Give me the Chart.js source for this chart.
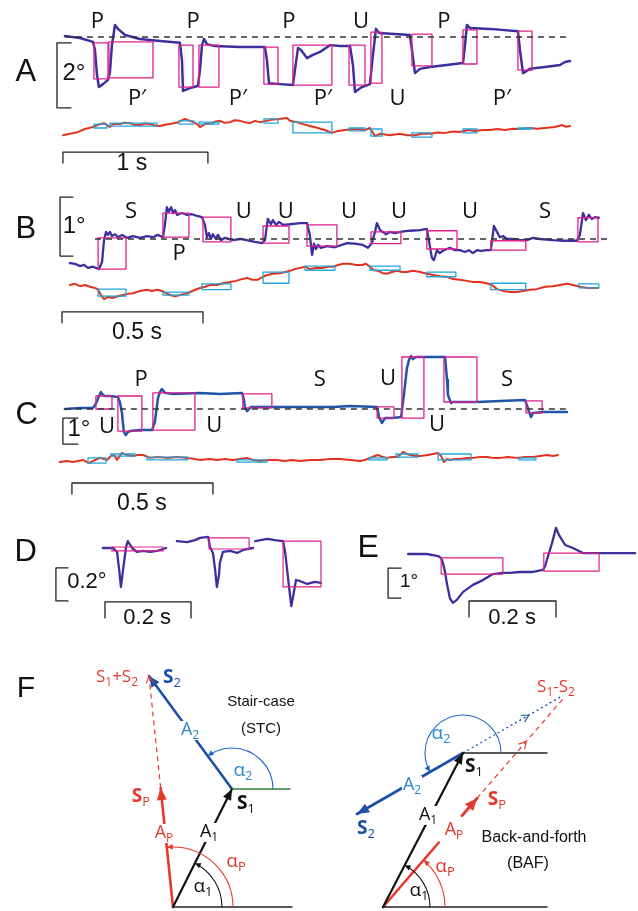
<!DOCTYPE html>
<html><head><meta charset="utf-8">
<script src="https://cdn.jsdelivr.net/npm/chart.js@4.4.0/dist/chart.umd.min.js"></script>
<style>
html,body{margin:0;padding:0;background:#fff;}
#fig{position:relative;width:638px;height:911px;overflow:hidden;background:#fff;}
canvas{position:absolute;}
</style></head>
<body>
<div id="fig">
<canvas id="cA" width="638" height="175" style="left:0;top:0"></canvas>
<canvas id="cB" width="638" height="165" style="left:0;top:180px"></canvas>
<canvas id="cC" width="638" height="170" style="left:0;top:345px"></canvas>
<canvas id="cD" width="330" height="125" style="left:0;top:515px"></canvas>
<canvas id="cE" width="308" height="125" style="left:330px;top:515px"></canvas>
<canvas id="cF" width="638" height="271" style="left:0;top:640px"></canvas>
</div>
<script>
// ================= DATA (time in s, eye position in deg) =================
// Panel A
const A_BLUE = [[0.000,0.03],[0.103,-0.03],[0.193,-0.15],[0.207,-0.40],[0.221,-1.17],[0.234,-1.54],[0.262,-1.45],[0.297,-1.32],[0.310,-1.08],[0.324,-0.25],[0.345,0.37],[0.366,0.25],[0.414,0.06],[0.517,-0.06],[0.655,-0.12],[0.793,-0.18],[0.807,-0.71],[0.814,-1.66],[0.862,-1.57],[0.917,-1.51],[0.931,-1.02],[0.945,-0.25],[0.959,-0.06],[0.979,-0.22],[1.034,-0.28],[1.207,-0.31],[1.379,-0.31],[1.393,-0.71],[1.407,-1.42],[1.483,-1.45],[1.572,-1.48],[1.586,-1.02],[1.607,-0.34],[1.628,-0.40],[1.669,-0.65],[1.710,-0.55],[1.759,-0.46],[1.828,-0.25],[1.897,-0.28],[1.966,-0.28],[1.986,-0.86],[2.000,-1.69],[2.048,-1.54],[2.103,-1.45],[2.124,-0.55],[2.145,0.25],[2.166,0.12],[2.276,0.09],[2.379,0.06],[2.393,-0.40],[2.414,-1.11],[2.448,-0.98],[2.517,-0.92],[2.745,-0.80],[2.759,-0.25],[2.772,0.37],[2.793,0.28],[2.931,0.25],[3.124,0.18],[3.138,-0.40],[3.159,-1.11],[3.207,-0.98],[3.310,-0.92],[3.414,-0.86],[3.448,-0.77],[3.483,-0.74]];
const A_RED = [[-0.014,-3.02],[0.034,-2.98],[0.090,-2.92],[0.138,-2.83],[0.193,-2.77],[0.241,-2.68],[0.269,-2.65],[0.290,-2.71],[0.310,-2.77],[0.331,-2.68],[0.379,-2.68],[0.410,-2.64],[0.448,-2.65],[0.480,-2.70],[0.517,-2.71],[0.550,-2.66],[0.586,-2.68],[0.620,-2.72],[0.655,-2.74],[0.690,-2.70],[0.724,-2.68],[0.779,-2.62],[0.828,-2.52],[0.862,-2.58],[0.903,-2.65],[0.931,-2.77],[0.966,-2.68],[1.014,-2.65],[1.040,-2.60],[1.069,-2.58],[1.100,-2.64],[1.138,-2.62],[1.170,-2.56],[1.207,-2.58],[1.240,-2.62],[1.276,-2.65],[1.310,-2.58],[1.345,-2.62],[1.421,-2.55],[1.476,-2.52],[1.531,-2.49],[1.552,-2.58],[1.600,-2.62],[1.641,-2.68],[1.690,-2.74],[1.745,-2.80],[1.793,-2.86],[1.841,-2.95],[1.883,-2.89],[1.931,-2.86],[2.000,-2.83],[2.069,-2.86],[2.103,-2.80],[2.138,-3.05],[2.172,-2.98],[2.241,-3.02],[2.310,-2.98],[2.360,-3.02],[2.414,-3.02],[2.470,-2.97],[2.517,-2.98],[2.570,-2.94],[2.621,-2.95],[2.680,-2.91],[2.724,-2.92],[2.779,-2.86],[2.828,-2.89],[2.880,-2.86],[2.931,-2.86],[2.980,-2.83],[3.034,-2.86],[3.090,-2.82],[3.138,-2.83],[3.207,-2.80],[3.260,-2.82],[3.310,-2.80],[3.379,-2.77],[3.428,-2.71],[3.455,-2.76],[3.483,-2.74]];
// boxes: [t start, t end, deg top, deg bottom]
const A_MAG = [[0.200,0.297,-0.18,-1.29],[0.303,0.607,-0.15,-1.26],[0.786,0.883,-0.25,-1.54],[0.924,1.062,-0.25,-1.54],[1.372,1.469,-0.31,-1.45],[1.572,1.841,-0.25,-1.48],[1.959,2.069,-0.25,-1.48],[2.110,2.186,0.15,-1.42],[2.393,2.531,0.09,-0.89],[2.745,2.841,0.22,-0.83],[3.124,3.221,0.18,-1.02]];
const A_CYAN = [[0.200,0.290,-2.68,-2.80],[0.310,0.634,-2.65,-2.74],[0.786,0.890,-2.58,-2.68],[0.924,1.062,-2.62,-2.68],[1.372,1.469,-2.52,-2.65],[1.572,1.841,-2.62,-2.95],[1.959,2.069,-2.80,-2.89],[2.110,2.186,-2.83,-3.05],[2.393,2.531,-2.95,-3.08],[2.745,2.841,-2.83,-2.95],[3.124,3.221,-2.80,-2.83]];
const A_TOP_LABELS = ['P','P','P','U','P'];
const A_TOP_T = [0.224,0.883,1.545,2.041,2.614];
const A_BOT_LABELS = ['P′','P′','P′','U','P′'];
const A_BOT_T = [0.497,1.193,1.779,2.293,3.014];

// Panel B
const B_BLUE = [[0.028,-0.41],[0.046,-0.42],[0.064,-0.46],[0.078,-0.44],[0.092,-0.49],[0.110,-0.47],[0.131,-0.51],[0.142,-0.39],[0.149,-0.02],[0.156,0.12],[0.163,0.07],[0.170,0.12],[0.177,0.05],[0.188,0.08],[0.199,0.03],[0.213,0.07],[0.230,0.02],[0.252,0.05],[0.277,0.02],[0.301,0.05],[0.323,0.03],[0.340,0.07],[0.358,0.03],[0.365,0.24],[0.372,0.54],[0.379,0.46],[0.387,0.54],[0.394,0.44],[0.401,0.49],[0.408,0.41],[0.426,0.44],[0.443,0.41],[0.461,0.42],[0.479,0.39],[0.496,0.37],[0.507,0.24],[0.514,0.03],[0.521,0.10],[0.528,0.00],[0.535,0.08],[0.546,0.00],[0.553,0.07],[0.564,-0.02],[0.578,0.02],[0.606,-0.02],[0.631,0.00],[0.655,-0.02],[0.684,-0.05],[0.709,-0.07],[0.720,-0.02],[0.727,0.24],[0.730,0.34],[0.741,0.25],[0.748,0.32],[0.759,0.24],[0.770,0.29],[0.784,0.24],[0.809,0.25],[0.844,0.27],[0.869,0.27],[0.879,0.07],[0.887,-0.27],[0.894,-0.08],[0.901,-0.17],[0.908,-0.10],[0.918,-0.15],[0.940,-0.12],[0.968,-0.14],[1.011,-0.07],[1.039,-0.08],[1.067,-0.10],[1.085,-0.15],[1.099,-0.07],[1.110,0.12],[1.117,0.27],[1.128,0.15],[1.138,0.12],[1.149,0.08],[1.163,0.12],[1.181,0.10],[1.199,0.12],[1.234,0.14],[1.270,0.15],[1.294,0.17],[1.301,-0.02],[1.312,-0.32],[1.319,-0.36],[1.330,-0.19],[1.340,-0.24],[1.351,-0.20],[1.365,-0.17],[1.376,-0.15],[1.394,-0.19],[1.411,-0.19],[1.429,-0.22],[1.443,-0.19],[1.457,-0.24],[1.472,-0.19],[1.486,-0.20],[1.507,-0.19],[1.521,-0.19],[1.528,0.07],[1.532,0.22],[1.543,0.12],[1.553,0.03],[1.564,0.05],[1.578,0.00],[1.599,0.00],[1.624,-0.02],[1.649,-0.02],[1.670,0.02],[1.695,0.00],[1.741,-0.02],[1.780,-0.03],[1.826,-0.03],[1.837,0.07],[1.848,0.44],[1.858,0.32],[1.869,0.41],[1.879,0.34],[1.890,0.37],[1.904,0.36]];
const B_RED = [[0.028,-0.78],[0.046,-0.76],[0.064,-0.80],[0.082,-0.78],[0.099,-0.81],[0.117,-0.83],[0.128,-0.86],[0.138,-0.95],[0.149,-1.02],[0.163,-0.98],[0.177,-1.00],[0.199,-0.97],[0.216,-0.95],[0.234,-0.93],[0.252,-0.92],[0.277,-0.88],[0.301,-0.86],[0.319,-0.88],[0.337,-0.86],[0.355,-0.88],[0.369,-0.92],[0.383,-0.95],[0.401,-0.97],[0.418,-0.95],[0.436,-0.93],[0.454,-0.90],[0.472,-0.86],[0.489,-0.83],[0.507,-0.81],[0.525,-0.78],[0.550,-0.78],[0.571,-0.75],[0.596,-0.73],[0.617,-0.71],[0.638,-0.68],[0.656,-0.66],[0.674,-0.69],[0.695,-0.69],[0.713,-0.64],[0.727,-0.61],[0.748,-0.59],[0.773,-0.58],[0.791,-0.56],[0.809,-0.54],[0.826,-0.51],[0.844,-0.49],[0.862,-0.47],[0.879,-0.51],[0.901,-0.49],[0.926,-0.49],[0.943,-0.47],[0.961,-0.47],[0.979,-0.44],[0.996,-0.42],[1.021,-0.42],[1.043,-0.44],[1.064,-0.44],[1.078,-0.42],[1.092,-0.47],[1.106,-0.53],[1.121,-0.54],[1.138,-0.58],[1.152,-0.59],[1.170,-0.56],[1.188,-0.54],[1.206,-0.56],[1.223,-0.56],[1.245,-0.54],[1.270,-0.56],[1.294,-0.59],[1.316,-0.61],[1.340,-0.63],[1.365,-0.64],[1.387,-0.68],[1.411,-0.69],[1.436,-0.71],[1.457,-0.73],[1.482,-0.73],[1.507,-0.75],[1.525,-0.78],[1.543,-0.85],[1.564,-0.88],[1.589,-0.90],[1.613,-0.90],[1.635,-0.88],[1.660,-0.86],[1.684,-0.85],[1.713,-0.81],[1.741,-0.80],[1.766,-0.78],[1.791,-0.76],[1.812,-0.78],[1.837,-0.81],[1.865,-0.83],[1.901,-0.83]];
const B_MAG = [[0.128,0.227,0.02,-0.51],[0.358,0.450,0.44,0.03],[0.500,0.599,0.37,-0.05],[0.713,0.805,0.22,-0.07],[0.869,0.975,0.24,-0.12],[1.096,1.202,0.12,-0.08],[1.294,1.401,0.14,-0.17],[1.521,1.645,-0.03,-0.19],[1.830,1.901,0.36,-0.05]];
const B_CYAN = [[0.128,0.227,-0.85,-0.97],[0.358,0.450,-0.90,-0.95],[0.496,0.599,-0.76,-0.86],[0.713,0.805,-0.56,-0.75],[0.862,0.968,-0.46,-0.53],[1.092,1.199,-0.46,-0.53],[1.294,1.397,-0.56,-0.64],[1.521,1.645,-0.75,-0.86],[1.833,1.904,-0.76,-0.83]];
const B_TOP_LABELS = ['S','U','U','U','U','U','S'];
const B_TOP_T = [0.245,0.645,0.794,1.018,1.195,1.447,1.713];

// Panel C
const C_BLUE = [[-0.025,0.00],[0.028,0.04],[0.074,0.04],[0.082,0.15],[0.089,0.31],[0.096,0.50],[0.103,0.65],[0.110,0.54],[0.117,0.50],[0.135,0.50],[0.163,0.46],[0.170,0.27],[0.177,-0.12],[0.184,-0.88],[0.191,-1.00],[0.199,-0.88],[0.206,-0.85],[0.241,-0.81],[0.284,-0.81],[0.294,-0.50],[0.305,0.42],[0.312,0.65],[0.319,0.77],[0.330,0.62],[0.358,0.58],[0.454,0.62],[0.525,0.58],[0.603,0.62],[0.610,0.35],[0.613,0.08],[0.621,-0.08],[0.635,0.08],[0.691,0.08],[0.809,0.08],[0.926,0.08],[0.986,0.12],[1.082,0.08],[1.089,-0.31],[1.099,-0.54],[1.110,-0.35],[1.138,-0.35],[1.167,-0.31],[1.177,0.54],[1.188,1.58],[1.195,1.88],[1.202,2.04],[1.209,1.92],[1.220,2.00],[1.280,2.00],[1.323,2.00],[1.330,1.12],[1.333,0.54],[1.344,0.23],[1.351,0.27],[1.376,0.27],[1.436,0.27],[1.518,0.31],[1.606,0.35],[1.613,0.15],[1.620,-0.08],[1.628,-0.31],[1.635,-0.15],[1.670,-0.12],[1.755,-0.12]];
const C_RED = [[-0.043,-2.04],[-0.018,-2.00],[0.004,-2.04],[0.021,-2.00],[0.039,-1.96],[0.060,-2.08],[0.082,-1.96],[0.099,-1.88],[0.113,-1.92],[0.124,-1.96],[0.142,-1.77],[0.152,-1.81],[0.160,-1.96],[0.170,-1.81],[0.177,-1.69],[0.195,-1.77],[0.216,-1.81],[0.234,-1.77],[0.252,-1.77],[0.277,-1.88],[0.305,-1.85],[0.337,-1.88],[0.372,-1.85],[0.408,-1.88],[0.436,-1.92],[0.454,-1.96],[0.489,-1.92],[0.514,-1.96],[0.543,-1.92],[0.571,-1.96],[0.596,-1.92],[0.621,-1.88],[0.642,-1.96],[0.667,-2.00],[0.695,-1.96],[0.727,-1.96],[0.755,-2.00],[0.780,-1.96],[0.809,-2.00],[0.844,-1.96],[0.879,-1.96],[0.915,-1.92],[0.950,-1.92],[0.986,-1.96],[1.021,-2.00],[1.039,-1.96],[1.057,-1.88],[1.074,-1.81],[1.085,-1.77],[1.103,-1.85],[1.117,-1.88],[1.135,-1.85],[1.152,-1.85],[1.163,-1.77],[1.174,-1.65],[1.188,-1.73],[1.199,-1.77],[1.216,-1.81],[1.234,-1.81],[1.262,-1.77],[1.298,-1.69],[1.309,-1.81],[1.319,-2.04],[1.330,-1.92],[1.340,-1.96],[1.358,-1.92],[1.376,-1.92],[1.401,-1.88],[1.422,-1.88],[1.447,-1.85],[1.472,-1.85],[1.493,-1.88],[1.518,-1.88],[1.546,-1.85],[1.578,-1.88],[1.606,-1.85],[1.635,-1.85],[1.660,-1.81],[1.684,-1.77],[1.706,-1.81],[1.723,-1.77]];
const C_MAG = [[0.085,0.142,0.50,0.00],[0.163,0.248,0.50,-0.85],[0.287,0.436,0.62,-0.81],[0.606,0.709,0.58,0.04],[1.082,1.142,0.08,-0.35],[1.170,1.248,2.00,-0.35],[1.319,1.436,2.00,0.27],[1.610,1.667,0.31,-0.15]];
const C_CYAN = [[0.057,0.121,-1.88,-2.08],[0.138,0.223,-1.73,-1.81],[0.266,0.411,-1.85,-1.96],[0.585,0.691,-1.96,-2.04],[1.053,1.117,-1.88,-1.96],[1.149,1.227,-1.73,-1.85],[1.298,1.415,-1.73,-1.96],[1.585,1.645,-1.88,-1.96]];
const C_LABELS = ['P','U','U','S','U','U','S'];
const C_LABEL_T = [0.245,0.124,0.505,0.879,1.121,1.294,1.543];
const C_LABEL_V = [1.13,-0.69,-0.65,1.12,1.15,-0.62,1.12];

// Panel D (three saccade snippets)
const D_SEG1 = [[-0.005,0.000],[0.019,0.000],[0.028,-0.024],[0.033,-0.133],[0.037,-0.236],[0.042,-0.133],[0.049,0.006],[0.053,0.042],[0.063,0.000],[0.074,-0.024],[0.088,-0.018],[0.105,-0.024],[0.121,-0.018],[0.142,0.000]];
const D_SEG2 = [[0.167,0.042],[0.191,0.036],[0.209,0.048],[0.221,0.061],[0.240,0.067],[0.244,0.006],[0.251,-0.030],[0.256,-0.133],[0.260,-0.236],[0.265,-0.164],[0.267,-0.091],[0.274,-0.024],[0.291,-0.018],[0.307,-0.030],[0.321,-0.012],[0.344,0.000]];
const D_SEG3 = [[0.349,0.042],[0.377,0.055],[0.395,0.048],[0.414,0.042],[0.419,-0.030],[0.426,-0.194],[0.433,-0.352],[0.437,-0.297],[0.444,-0.194],[0.453,-0.200],[0.470,-0.218],[0.488,-0.206],[0.502,-0.212]];
const D_MAG = [[0.016,0.135,0.006,-0.018],[0.242,0.335,0.061,-0.006],[0.414,0.502,0.042,-0.236]];

// Panel E
const E_BLUE = [[-0.140,0.00],[-0.097,0.00],[-0.071,-0.07],[-0.064,-0.13],[-0.060,-0.30],[-0.055,-0.60],[-0.051,-0.97],[-0.044,-1.47],[-0.037,-1.63],[-0.028,-1.53],[-0.014,-1.27],[0.009,-1.03],[0.032,-0.87],[0.055,-0.67],[0.078,-0.63],[0.094,-0.63],[0.117,-0.60],[0.147,-0.60],[0.170,-0.53],[0.175,-0.40],[0.179,-0.20],[0.191,0.37],[0.200,0.87],[0.207,0.63],[0.221,0.30],[0.239,0.20],[0.262,0.03],[0.301,0.03],[0.347,0.03],[0.382,0.03]];
const E_MAG = [[-0.064,0.078,-0.13,-0.67],[0.172,0.299,0.03,-0.57]];

// Scale bar values
const BAR_A = {deg:2, sec:1, degText:'2°', secText:'1 s'};
const BAR_B = {deg:1, sec:0.5, degText:'1°', secText:'0.5 s'};
const BAR_C = {deg:1, sec:0.5, degText:'1°', secText:'0.5 s'};
const BAR_D = {deg:0.2, sec:0.2, degText:'0.2°', secText:'0.2 s'};
const BAR_E = {deg:1, sec:0.2, degText:'1°', secText:'0.2 s'};

// Panel F vectors (arbitrary amplitude units)
const STC_S1 = [1.18, 2.36];
const STC_S2 = [-1.66, 2.26];
const BAF_S1 = [1.60, 3.08];
const BAF_S2 = [-2.12, -1.22];

// ================= STYLE =================
const BLUE = '#3c2f9e', BLUE_C = '#2353a8', RED = '#e2321f', MAG = '#e0218a', CYAN = '#22a5d8';
const F_RED = '#e5392c', F_BLUE = '#1d50a4', F_LBLUE = '#2b89cc', F_GREEN = '#2f7d3a';
const FONT_LBL = '"Open Sans","DejaVu Sans",sans-serif';
const FONT_SANS = '"Liberation Sans",Arial,sans-serif';
const LBL = 22;

function pts(a){ return a.map(p=>({x:p[0], y:p[1]})); }
function line(a, color, width, dash){
  return {data:pts(a), borderColor:color, backgroundColor:color, borderWidth:width, borderDash:dash||[],
    showLine:true, pointRadius:0, pointHoverRadius:0, fill:false, tension:0,
    borderJoinStyle:'round', borderCapStyle: dash ? 'butt' : 'round'};
}
function boxes(list, color, w){
  return list.map(b=>line([[b[0],b[2]],[b[1],b[2]],[b[1],b[3]],[b[0],b[3]],[b[0],b[2]]], color, w||1.3));
}
function degBracket(t, vTop, deg, tick){
  return line([[t+tick, vTop],[t, vTop],[t, vTop-deg],[t+tick, vTop-deg]], '#222', 1.3);
}
function timeBar(t0, v, sec, tick){
  return line([[t0, v-tick],[t0, v],[t0+sec, v],[t0+sec, v-tick]], '#222', 1.3);
}
function add(a,b){ return [a[0]+b[0], a[1]+b[1]]; }
function sub(a,b){ return [a[0]-b[0], a[1]-b[1]]; }
function lerp(a,b,f){ return [a[0]+(b[0]-a[0])*f, a[1]+(b[1]-a[1])*f]; }
function ang(v){ let a = Math.atan2(v[1], v[0])*180/Math.PI; return a<0 ? a+360 : a; }

// ================= DRAWING PLUGIN (texts, arrowheads, arcs) =================
function head(ctx, x, y, dx, dy, len, half, color, open){
  const n = Math.hypot(dx,dy); dx/=n; dy/=n;
  const bx = x - dx*len, by = y - dy*len, px = -dy, py = dx;
  ctx.beginPath();
  ctx.moveTo(bx+px*half, by+py*half); ctx.lineTo(x,y); ctx.lineTo(bx-px*half, by-py*half);
  if (open){ ctx.strokeStyle=color; ctx.lineWidth=1.1; ctx.stroke(); }
  else { ctx.closePath(); ctx.fillStyle=color; ctx.fill(); }
}
function drawRich(ctx, it, px, py){
  const size = it.size||20, fam = it.font||FONT_LBL, wt = it.bold ? 'bold ' : '';
  const segs = []; const s = it.s;
  for (let i=0;i<s.length;i++){
    if (s[i]==='_' && i+1<s.length){ segs.push({t:s[i+1], sub:true}); i++; }
    else if (segs.length && !segs[segs.length-1].sub) segs[segs.length-1].t += s[i];
    else segs.push({t:s[i], sub:false});
  }
  let w = 0;
  segs.forEach(g=>{ g.f = g.sub ? (Math.round(size*0.68)+'px '+fam) : (wt+size+'px '+fam); ctx.font=g.f; g.w=ctx.measureText(g.t).width; w+=g.w; });
  let x = it.align==='left' ? px : it.align==='right' ? px-w : px-w/2;
  if (it.bg){ ctx.fillStyle='#fff'; ctx.fillRect(x-1, py-size*0.5, w+2, size*1.05); }
  ctx.fillStyle = it.color||'#111'; ctx.textBaseline='middle';
  segs.forEach(g=>{ ctx.font=g.f; ctx.fillText(g.t, x, g.sub ? py+size*0.3 : py); x+=g.w; });
}
const decor = {
  id:'decor',
  afterDatasetsDraw(chart, args, o){
    const ctx = chart.ctx, xs = chart.scales.x, ys = chart.scales.y;
    const P = (p)=>[xs.getPixelForValue(p[0]), ys.getPixelForValue(p[1])];
    const ux = xs.getPixelForValue(1)-xs.getPixelForValue(0);
    ctx.save();
    (o.arcs||[]).forEach(a=>{
      const c = P(a.c), r = a.r*ux, a0 = a.a0*Math.PI/180, a1 = a.a1*Math.PI/180;
      ctx.beginPath(); ctx.strokeStyle=a.color; ctx.lineWidth=a.width||1.1;
      ctx.arc(c[0], c[1], r, -a0, -a1, true); ctx.stroke();
      const ex = c[0]+r*Math.cos(a1), ey = c[1]-r*Math.sin(a1);
      head(ctx, ex, ey, -Math.sin(a1), -Math.cos(a1), 6, 2.8, a.color, false);
    });
    (o.arrows||[]).forEach(a=>{
      const p0 = P(a.from), p1 = P(a.to);
      head(ctx, p1[0], p1[1], p1[0]-p0[0], p1[1]-p0[1], a.len||11, a.half||4.5, a.color, a.open);
    });
    (o.texts||[]).forEach(it=>{ const p = P([it.x, it.y]); drawRich(ctx, it, p[0], p[1]); });
    ctx.restore();
  }
};

function panel(id, xr, yr, datasets, deco){
  return new Chart(document.getElementById(id), {
    type:'scatter',
    data:{datasets},
    options:{
      responsive:false, maintainAspectRatio:false, animation:false, events:[],
      layout:{padding:0},
      plugins:{legend:{display:false}, tooltip:{enabled:false}, decor:deco},
      scales:{
        x:{type:'linear', display:false, min:xr[0], max:xr[1]},
        y:{type:'linear', display:false, min:yr[0], max:yr[1]}
      }
    },
    plugins:[decor]
  });
}
const T = (s, x, y, size, extra)=>Object.assign({s, x, y, size}, extra||{});

// ================= PANEL A =================
panel('cA', [-0.448, 3.952], [-4.246, 1.1385], [
  line([[0,0],[3.476,0]], '#333', 1.3, [6,5]),
  ...boxes(A_MAG, MAG), ...boxes(A_CYAN, CYAN),
  line(A_RED, RED, 2), line(A_BLUE, BLUE, 2.5),
  degBracket(-0.055, -0.18, BAR_A.deg, 0.097),
  timeBar(-0.014, -3.54, BAR_A.sec, 0.34)
], {texts:[
  T('A', -0.269, -1.08, 31, {font:FONT_SANS}),
  T(BAR_A.degText, 0.062, -1.11, 24, {font:FONT_SANS}),
  T(BAR_A.secText, 0.462, -3.908, 23, {font:FONT_SANS}),
  ...A_TOP_LABELS.map((s,i)=>T(s, A_TOP_T[i], 0.477, LBL)),
  ...A_BOT_LABELS.map((s,i)=>T(s, A_BOT_T[i], -1.91, LBL))
]});

// ================= PANEL B =================
panel('cB', [-0.220, 2.043], [-1.797, 1.0], [
  line([[0.117,0],[1.950,0]], '#333', 1.3, [6,5]),
  ...boxes(B_MAG, MAG), ...boxes(B_CYAN, CYAN),
  line(B_RED, RED, 2), line(B_BLUE, BLUE, 2.3),
  degBracket(-0.007, 0.71, BAR_B.deg, 0.046),
  timeBar(0, -1.237, BAR_B.sec, 0.186)
], {texts:[
  T('B', -0.128, 0.17, 31, {font:FONT_SANS}),
  T(BAR_B.degText, 0.043, 0.22, 24, {font:FONT_SANS}),
  T(BAR_B.secText, 0.266, -1.593, 23, {font:FONT_SANS}),
  ...B_TOP_LABELS.map((s,i)=>T(s, B_TOP_T[i], 0.47, LBL)),
  T('P', 0.415, -0.25, LBL)
]});

// ================= PANEL C =================
panel('cC', [-0.255, 2.007], [-4.077, 2.4615], [
  line([[-0.025,0],[1.755,0]], '#333', 1.3, [6,5]),
  ...boxes(C_MAG, MAG), ...boxes(C_CYAN, CYAN),
  line(C_RED, RED, 2), line(C_BLUE, BLUE_C, 2.5),
  degBracket(-0.032, -0.35, BAR_C.deg, 0.053),
  timeBar(0, -2.846, BAR_C.sec, 0.423)
], {texts:[
  T('C', -0.160, -0.23, 31, {font:FONT_SANS}),
  T(BAR_C.degText, 0.025, -0.77, 24, {font:FONT_SANS}),
  T(BAR_C.secText, 0.248, -3.654, 23, {font:FONT_SANS}),
  ...C_LABELS.map((s,i)=>T(s, C_LABEL_T[i], C_LABEL_V[i], LBL))
]});

// ================= PANEL D =================
panel('cD', [-0.244, 0.523], [-0.5576, 0.2], [
  ...boxes(D_MAG, MAG, 1.2),
  line(D_SEG1, BLUE, 2.3), line(D_SEG2, BLUE, 2.3), line(D_SEG3, BLUE, 2.3),
  degBracket(-0.114, -0.121, BAR_D.deg, 0.028),
  timeBar(0, -0.327, BAR_D.sec, 0.097)
], {texts:[
  T('D', -0.184, -0.030, 31, {font:FONT_SANS}),
  T(BAR_D.degText, -0.042, -0.206, 22, {font:FONT_SANS}),
  T(BAR_D.secText, 0.098, -0.424, 22, {font:FONT_SANS})
]});

// ================= PANEL E =================
panel('cE', [-0.3195, 0.3885], [-2.867, 1.3], [
  ...boxes(E_MAG, MAG, 1.2),
  line(E_BLUE, BLUE, 2.3),
  degBracket(-0.186, -0.47, BAR_E.deg, 0.030),
  timeBar(0, -1.567, BAR_E.sec, 0.533)
], {texts:[
  T('E', -0.232, 0.2, 32, {font:FONT_SANS}),
  T(BAR_E.degText, -0.138, -0.93, 19, {font:FONT_SANS}),
  T(BAR_E.secText, 0.099, -2.13, 22, {font:FONT_SANS})
]});

// ================= PANEL F =================
const O1 = [0,0], O2 = [4.2,0];               // origins of the two diagrams
const L_S1 = add(O1, STC_S1), L_T = add(L_S1, STC_S2);       // S1, S1+S2
const R_S1 = add(O2, BAF_S1), R_S2 = add(R_S1, BAF_S2);      // S1, S2 tip
const R_D = add(O2, sub(BAF_S1, BAF_S2));                     // S1-S2
const L_SPa = lerp(O1, L_T, 0.515);
panel('cF', [-3.46, 9.3], [-0.08, 5.34], [
  // STC
  line([O1,[2.38,0]], '#222', 1.3),
  line([L_S1,[2.34,L_S1[1]]], F_GREEN, 1.3),
  line([O1, L_S1], '#111', 2.2),
  line([L_S1, L_T], F_BLUE, 2.6),
  line([O1, L_SPa], F_RED, 2.6),
  line([L_SPa, lerp(O1,L_T,0.985)], F_RED, 1.2, [5,4]),
  // BAF
  line([O2,[7.48,0]], '#222', 1.3),
  line([R_S1,[7.48,R_S1[1]]], '#222', 1.3),
  line([O2, R_S1], '#111', 2.2),
  line([R_S1, R_S2], F_BLUE, 2.6),
  line([R_S1, lerp(R_S1,R_D,0.93)], F_BLUE, 1.3, [2,3]),
  line([O2, lerp(O2,R_D,0.30)], F_RED, 2.6),
  line([lerp(O2,R_D,0.425), lerp(O2,R_D,0.505)], F_RED, 3),
  line([lerp(O2,R_D,0.505), lerp(O2,R_D,0.97)], F_RED, 1.2, [5,4])
], {
  arcs:[
    {c:O1, r:0.98, a0:0, a1:ang(STC_S1), color:'#111'},
    {c:O1, r:1.20, a0:0, a1:ang(sub(L_T,O1)), color:F_RED},
    {c:L_S1, r:0.82, a0:0, a1:ang(STC_S2), color:'#2266cc'},
    {c:O2, r:0.94, a0:0, a1:ang(BAF_S1), color:'#111'},
    {c:O2, r:1.24, a0:0, a1:ang(sub(BAF_S1,BAF_S2)), color:F_RED},
    {c:R_S1, r:0.76, a0:0, a1:ang(BAF_S2), color:'#2266cc'}
  ],
  arrows:[
    {from:O1, to:L_S1, color:'#111', len:11, half:4.5},
    {from:L_S1, to:L_T, color:F_BLUE, len:11, half:5},
    {from:O1, to:L_SPa, color:F_RED, len:12, half:5},
    {from:O1, to:L_T, color:F_RED, len:7, half:3.5, open:true},
    {from:O2, to:R_S1, color:'#111', len:11, half:4.5},
    {from:R_S1, to:R_S2, color:F_BLUE, len:12, half:5},
    {from:O2, to:lerp(O2,R_D,0.505), color:F_RED, len:12, half:5.5},
    {from:R_S1, to:lerp(R_S1,R_D,0.62), color:F_BLUE, len:7, half:4, open:true},
    {from:O2, to:lerp(O2,R_D,0.77), color:F_RED, len:7, half:4, open:true}
  ],
  texts:[
    T('F', -2.94, 4.36, 30, {font:FONT_SANS}),
    T('S_1+S_2', -1.12, 4.6, 17, {color:F_RED}),
    T('S_2', -0.02, 4.58, 19, {color:F_BLUE, bold:true}),
    T('Stair-case', 1.76, 4.1, 15, {font:FONT_SANS}),
    T('(STC)', 1.76, 3.56, 15, {font:FONT_SANS}),
    T('A_2', 0.34, 3.54, 18, {color:F_LBLUE, bg:true}),
    T('α_2', 1.40, 2.72, 19, {color:F_LBLUE}),
    T('S_1', 1.46, 2.06, 19, {bold:true}),
    T('S_P', -0.64, 2.2, 19, {color:F_RED, bold:true}),
    T('A_P', -0.18, 1.48, 18, {color:F_RED, bg:true}),
    T('A_1', 0.72, 1.5, 18, {bg:true}),
    T('α_P', 1.26, 0.9, 19, {color:F_RED}),
    T('α_1', 0.60, 0.40, 19),
    T('S_1-S_2', 7.66, 4.4, 17, {color:F_RED}),
    T('α_2', 5.36, 3.46, 19, {color:F_LBLUE}),
    T('S_1', 6.02, 2.8, 19, {bold:true}),
    T('A_2', 4.78, 2.44, 18, {color:F_LBLUE, bg:true}),
    T('S_2', 3.86, 1.56, 19, {color:F_BLUE, bold:true}),
    T('A_1', 5.10, 1.84, 18, {bg:true}),
    T('A_P', 5.62, 1.54, 18, {color:F_RED}),
    T('S_P', 6.48, 2.14, 19, {color:F_RED, bold:true}),
    T('Back-and-forth', 7.22, 1.38, 16, {font:FONT_SANS}),
    T('(BAF)', 7.10, 0.86, 16, {font:FONT_SANS}),
    T('α_P', 5.44, 0.80, 19, {color:F_RED}),
    T('α_1', 4.92, 0.32, 19)
  ]
});
</script>
</body></html>
